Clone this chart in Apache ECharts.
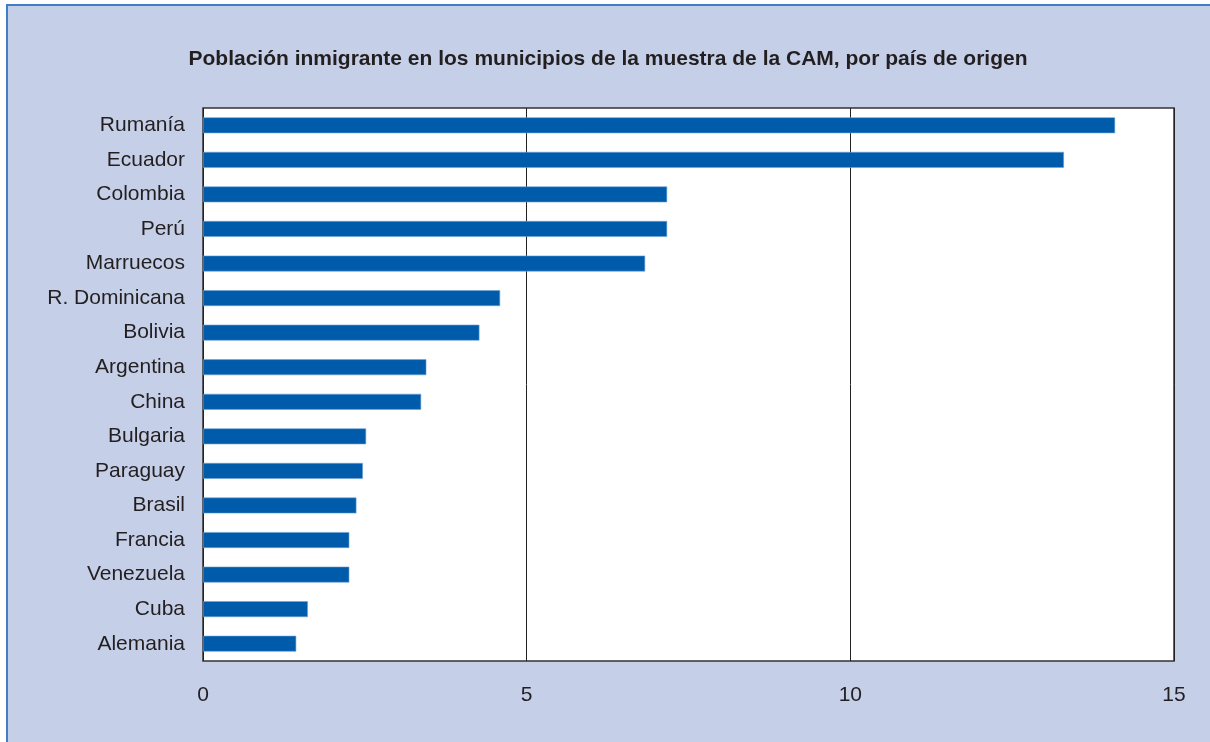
<!DOCTYPE html>
<html>
<head>
<meta charset="utf-8">
<script src="https://cdn.jsdelivr.net/npm/echarts@6/dist/echarts.min.js"></script>
<style>
  html, body { margin: 0; padding: 0; background: #ffffff; overflow: hidden; }
  .frame {
    position: absolute;
    left: 6px;
    top: 4px;
    width: 1220px;
    height: 760px;
    background: #c5cfe8;
    border: 2px solid #3f7fc6;
    box-sizing: border-box;
  }
  #chart { position: absolute; left: 0; top: 0; width: 1210px; height: 742px; }
</style>
</head>
<body>
<div class="frame"></div>
<div id="chart"></div>
<script>
  // países de origen (de abajo hacia arriba en el eje)
  const paises = ['Alemania', 'Cuba', 'Venezuela', 'Francia', 'Brasil', 'Paraguay', 'Bulgaria', 'China',
    'Argentina', 'Bolivia', 'R. Dominicana', 'Marruecos', 'Perú', 'Colombia', 'Ecuador', 'Rumanía']
  // porcentaje de población inmigrante
  const valores = [1.44, 1.62, 2.26, 2.26, 2.37, 2.47, 2.52, 3.37,
    3.45, 4.27, 4.59, 6.83, 7.17, 7.17, 13.30, 14.09]
  const ejeX = [0, 5, 10, 15]

  const chart = echarts.init(document.getElementById('chart'))
  const option = {
    backgroundColor: 'transparent',
    animation: false,
    title: {
      text: 'Población inmigrante en los municipios de la muestra de la CAM, por país de origen',
      left: 603,
      top: 44,
      textAlign: 'center',
      textStyle: {
        fontFamily: 'Liberation Sans, Arial, sans-serif',
        fontSize: 21,
        fontWeight: 'bold',
        color: '#231f20'
      }
    },
    grid: {
      left: 203,
      right: 36,
      top: 108,
      bottom: 81,
      show: true,
      backgroundColor: '#ffffff',
      borderColor: '#333333',
      borderWidth: 1.5
    },
    xAxis: {
      type: 'value',
      min: ejeX[0],
      max: ejeX[ejeX.length - 1],
      interval: 5,
      axisLine: { show: false },
      axisTick: { show: false },
      axisLabel: {
        margin: 24,
        fontFamily: 'Liberation Sans, Arial, sans-serif',
        fontSize: 21,
        color: '#231f20'
      },
      splitLine: {
        lineStyle: { color: '#222222', width: 1 }
      }
    },
    yAxis: {
      type: 'category',
      data: paises,
      axisLine: { show: false },
      axisTick: { show: false },
      axisLabel: {
        margin: 18,
        fontFamily: 'Liberation Sans, Arial, sans-serif',
        fontSize: 21,
        color: '#231f20'
      }
    },
    series: [{
      type: 'bar',
      data: valores,
      barWidth: '46%',
      itemStyle: {
        color: '#005baa',
        borderColor: '#6fa3d8',
        borderWidth: 0.6
      }
    }]
  }
  chart.setOption(option, true)
</script>
</body>
</html>
